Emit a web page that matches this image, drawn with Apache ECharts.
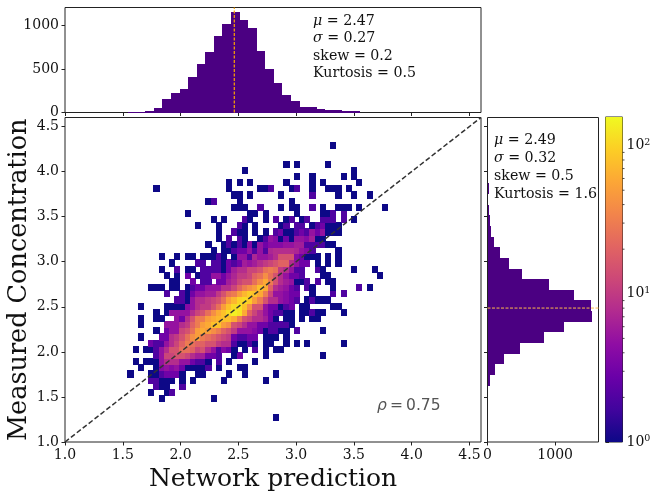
<!DOCTYPE html>
<html><head><meta charset="utf-8">
<style>html,body{margin:0;padding:0;background:#fff}#c{width:657px;height:497px}</style>
<script src="https://cdn.jsdelivr.net/npm/echarts@6/dist/echarts.min.js"></script>
</head><body><div id="c"></div>
<script>
// 2D histogram: counts by row index -> {column index: count}
const binCounts = {
47:{51:1},
44:{42:1,44:1,50:1},
43:{34:1,55:1},
42:{44:1,47:1,53:1,55:1},
41:{31:1,33:1,35:1,42:1,47:1,49:1,56:1},
40:{17:1,31:1,37:1,38:1,39:2,43:1,44:2,47:1,50:1,51:1,52:1,54:1},
39:{32:1,33:1,35:1,41:1,47:2,52:1,55:1,58:1},
38:{27:1,28:2,33:1,43:1},
37:{32:1,33:1,34:1,37:2,41:1,43:1,44:1,47:2,49:1,52:1,53:1,54:1,56:1,61:1},
36:{23:1,35:1,36:1,38:1,44:1,49:1,50:1,51:2,53:2},
35:{28:1,30:1,34:2,35:1,38:1,40:2,42:1,43:2,45:1,46:2,49:2,50:2,51:2,53:2,55:1},
34:{25:1,29:1,33:2,34:1,36:1,41:1,42:2,44:2,45:2,47:1,48:2,49:3,50:1,51:1,52:1},
33:{29:1,32:2,33:1,34:1,36:1,38:1,40:2,41:3,42:1,43:1,44:2,45:3,46:2,47:5,48:3,49:5,50:1,51:1,52:1},
32:{29:1,31:2,33:2,34:1,37:1,38:2,39:5,40:4,41:1,42:3,43:1,44:5,45:5,46:4,47:6,48:1,49:1},
31:{27:1,30:1,31:2,32:1,33:2,34:1,35:4,36:1,37:5,38:3,39:4,40:4,41:4,42:5,43:5,44:6,45:6,46:2,47:2,48:2,49:2,50:1,51:1},
30:{28:1,30:1,31:1,32:2,33:3,34:3,35:5,36:2,37:5,38:2,39:7,40:8,41:8,42:8,43:8,44:7,45:5,46:4,47:2,52:1},
29:{18:1,21:1,23:1,24:1,26:1,27:1,28:1,29:2,30:1,32:1,33:5,34:5,35:2,36:7,37:5,38:5,39:6,40:8,41:15,42:15,43:15,44:4,45:3,46:1,47:1,48:1,50:1,52:1},
28:{20:1,25:2,26:2,28:2,29:2,30:1,31:3,32:2,33:3,34:6,35:5,36:6,37:8,38:10,39:12,40:15,41:20,42:20,43:8,44:5,45:3,46:3,48:1,50:1,52:1},
27:{18:1,21:2,23:1,24:1,26:2,27:2,28:2,29:2,30:1,31:3,32:6,33:8,34:8,35:12,36:12,37:15,38:25,39:30,40:25,41:10,42:8,43:5,44:2,45:2,48:2,49:1,55:1,59:1},
26:{19:1,21:1,23:3,25:1,26:2,27:2,28:5,29:5,30:3,31:5,32:7,33:10,34:10,35:12,36:20,37:25,38:40,39:25,40:15,41:8,42:5,43:3,44:3,45:2,49:1,50:1,60:1},
25:{20:1,21:1,24:3,26:2,27:2,29:3,30:3,31:6,32:8,33:12,34:15,35:15,36:25,37:40,38:60,39:30,40:15,41:8,42:6,43:5,44:1,45:1,46:2,48:2,50:1,51:1},
24:{16:1,17:1,18:1,20:1,21:1,23:1,24:2,25:3,26:3,27:5,28:5,29:5,30:8,31:8,32:12,33:20,34:30,35:40,36:50,37:80,38:60,39:20,40:8,41:6,42:5,43:3,44:2,46:2,47:1,51:1,56:2,58:1},
23:{19:2,22:2,23:1,24:3,25:5,26:5,27:6,28:6,29:10,30:15,31:25,32:30,33:50,34:70,35:90,36:80,37:60,38:30,39:12,40:5,41:5,42:4,43:3,44:3,47:1,51:2,53:2},
22:{21:2,22:2,23:1,24:5,25:8,26:8,27:10,28:12,29:15,30:25,31:50,32:70,33:100,34:110,35:90,36:50,37:30,38:15,39:8,40:8,41:5,42:4,43:3,44:2,46:1,47:2,48:1,49:1,50:1},
21:{14:1,19:1,20:1,21:1,22:1,23:4,24:5,25:8,26:10,27:10,28:15,29:25,30:50,31:80,32:110,33:120,34:80,35:40,36:15,37:15,38:5,39:3,40:3,41:1,42:2,43:3,45:1,46:1,51:1,52:1},
20:{17:1,19:1,20:5,21:5,22:5,23:5,24:8,25:12,26:15,27:25,28:40,29:60,30:80,31:110,32:140,33:120,34:60,35:20,36:12,37:8,38:5,39:3,40:2,41:2,42:1,43:1,45:1,46:1,47:2,48:1,49:1,53:1},
19:{14:1,17:1,18:1,21:5,22:3,23:8,24:15,25:30,26:30,27:50,28:60,29:70,30:80,31:80,32:60,33:30,34:15,35:12,36:8,37:8,38:6,39:3,40:1,42:1,43:1,45:1,47:1,48:1},
18:{14:1,19:5,20:5,21:5,22:8,23:10,24:20,25:30,26:50,27:60,28:80,29:80,30:50,31:40,32:15,33:12,34:8,35:5,36:5,37:3,38:3,39:2,40:2,41:2,42:2,43:1},
17:{17:1,19:3,20:5,21:5,22:12,23:15,24:25,25:50,26:60,27:50,28:40,29:30,30:20,31:15,32:10,33:5,34:5,35:5,36:4,37:3,38:1,39:2,40:2,41:1,42:1,44:2,49:1},
16:{14:1,18:3,19:3,20:8,21:10,22:15,23:25,24:40,25:50,26:30,27:25,28:20,29:15,30:12,31:10,32:3,33:2,34:2,35:3,36:3,38:1,39:1,40:1,42:1},
15:{16:3,17:2,18:2,19:5,20:8,21:12,22:20,23:30,24:25,25:20,26:20,27:15,28:15,29:10,30:8,31:8,32:2,33:1,34:1,35:2,36:1,38:1,39:1,42:1,44:1,46:1,53:1},
14:{13:1,15:1,16:1,17:2,18:5,19:8,20:15,21:15,22:25,23:25,24:20,25:12,26:15,27:8,28:5,29:2,30:4,31:3,32:1,34:1,36:2,38:1,40:1,41:1},
13:{17:2,18:5,19:12,20:12,21:15,22:15,23:12,24:8,25:6,26:6,27:3,28:3,29:2,32:1,33:3,38:1,49:1},
12:{13:1,15:1,16:1,17:1,18:5,19:8,20:8,21:8,22:5,23:5,24:3,25:2,26:2,27:1,29:2,31:1,36:1},
11:{14:1,17:1,18:4,19:5,20:4,21:5,22:3,23:1,24:1,25:1,26:1,27:2,29:1,33:1,34:1},
10:{12:1,16:1,17:1,18:2,19:3,20:3,21:3,22:1,25:1,26:1,31:1,34:1,40:1},
9:{16:2,17:2,18:1,19:1,20:1,22:1,24:1,30:1,38:1},
8:{17:2,18:1,19:1,22:2},
7:{16:1,19:1,20:2},
6:{18:1,28:1},
3:{40:1}
};
const cellXStart = 1.0, cellXStep = 0.045, cellYStart = 1.04, cellYStep = 0.0685;

// top histogram
const topHistStart = 1.546, topHistStep = 0.0742;
const topHistCounts = [3,11,15,50,153,222,268,406,555,693,877,1015,1153,1061,969,705,498,337,199,130,61,61,38,27,27,15,15];
// right histogram
const rightHistStart = 1.39, rightHistStep = 0.118;
const rightHistCounts = [5,10,39,113,246,483,837,1133,1547,1532,1281,911,512,320,187,98,54,39,25,2,20,2,2];

const meanX = 2.465, meanY = 2.486;
const diagonal = [[1,1],[4.6,4.6]];
const mainTicks = [1,1.5,2,2.5,3,3.5,4,4.5];
const topHistTicks = [0,500,1000];
const rightHistTicks = [0,1000];
const cbarTicks = [1,10,100];
const cbarMinorTicks = [2,3,4,5,6,7,8,9,20,30,40,50,60,70,80,90];
const cbarMax = 156;
const plasma = ['#0d0887','#41049d','#6a00a8','#8f0da4','#b12a90','#cc4778','#e16462','#f2844b','#fca636','#fcce25','#f0f921'];
const topStats = ['{i|μ} = 2.47','{i|σ} = 0.27','skew = 0.2','Kurtosis = 0.5'];
const rightStats = ['{i|μ} = 2.49','{i|σ} = 0.32','skew = 0.5','Kurtosis = 1.6'];

const SERIF = '"DejaVu Serif"';
const INK = '#222';
const heatData = [];
Object.keys(binCounts).forEach(r => {
  const row = binCounts[r];
  Object.keys(row).forEach(c => {
    const n = row[c];
    heatData.push([cellXStart + c*cellXStep, cellYStart + r*cellYStep, n, Math.log10(n)]);
  });
});
const topData = topHistCounts.map((n,i)=>[topHistStart+i*topHistStep, topHistStart+(i+1)*topHistStep, n]);
const rightData = rightHistCounts.map((n,i)=>[rightHistStart+i*rightHistStep, rightHistStart+(i+1)*rightHistStep, n]);

const frame = {show:true,borderColor:INK,borderWidth:1,backgroundColor:'#fff',outerBoundsMode:'none',containLabel:false};
const axisBase = {axisLine:{show:false},splitLine:{show:false},axisTick:{length:3.5,lineStyle:{color:INK,width:1}}};
const lbl = {color:'#111',fontFamily:SERIF,fontSize:14,margin:6};

function snapRect(a,b){
  const x0=Math.round(a[0]),x1=Math.round(b[0]),y0=Math.round(b[1]),y1=Math.round(a[1]);
  return {x:x0,y:y0,width:x1-x0,height:y1-y0};
}
function statGraphics(lines,x,y0,dy){
  return lines.map((t,i)=>({type:'text',left:x,top:y0+i*dy,z:50,silent:true,
    style:{text:t,fontFamily:SERIF,fontSize:14.2,fill:'#111',
      rich:{i:{fontStyle:'italic',fontFamily:SERIF,fontSize:14.2,fill:'#111'}}}}));
}

const option = {
  animation:false,
  backgroundColor:'#fff',
  grid:[
    Object.assign({left:65,top:117.5,width:416,height:324.5},frame),
    Object.assign({left:65,top:7.5,width:416,height:105},frame),
    Object.assign({left:487.5,top:117.5,width:111,height:324.5},frame),
    Object.assign({left:605.5,top:117,width:17,height:325},frame)
  ],
  xAxis:[
    Object.assign({},axisBase,{gridIndex:0,type:'value',min:1,max:4.6,
      name:'Network prediction',nameLocation:'middle',nameGap:24,
      nameTextStyle:{fontFamily:SERIF,fontSize:25,color:'#111'},
      axisTick:{length:3.5,lineStyle:{color:INK},customValues:mainTicks},
      axisLabel:Object.assign({},lbl,{customValues:mainTicks,formatter:v=>v.toFixed(1)})}),
    Object.assign({},axisBase,{gridIndex:1,type:'value',min:1,max:4.6,
      axisTick:{length:3.5,lineStyle:{color:INK},customValues:mainTicks},
      axisLabel:{show:false}}),
    Object.assign({},axisBase,{gridIndex:2,type:'value',min:0,max:1640,
      axisTick:{length:3.5,lineStyle:{color:INK},customValues:rightHistTicks},
      axisLabel:Object.assign({},lbl,{customValues:rightHistTicks,formatter:v=>String(v)})}),
    {gridIndex:3,type:'value',min:0,max:1,show:false}
  ],
  yAxis:[
    Object.assign({},axisBase,{gridIndex:0,type:'value',min:1,max:4.6,
      name:'Measured Concentration',nameLocation:'middle',nameGap:33,nameMoveOverlap:false,
      nameTextStyle:{fontFamily:SERIF,fontSize:25.5,color:'#111'},
      axisTick:{length:3.5,lineStyle:{color:INK},customValues:mainTicks},
      axisLabel:Object.assign({},lbl,{customValues:mainTicks,formatter:v=>v.toFixed(1)})}),
    Object.assign({},axisBase,{gridIndex:1,type:'value',min:0,max:1207,
      axisTick:{length:3.5,lineStyle:{color:INK},customValues:topHistTicks},
      axisLabel:Object.assign({},lbl,{customValues:topHistTicks,formatter:v=>String(v)})}),
    Object.assign({},axisBase,{gridIndex:2,type:'value',min:1,max:4.6,
      axisTick:{length:3.5,lineStyle:{color:INK},customValues:mainTicks},
      axisLabel:{show:false}}),
    Object.assign({},axisBase,{gridIndex:3,type:'log',logBase:10,min:1,max:cbarMax,position:'right',
      axisTick:{length:3.5,lineStyle:{color:INK},customValues:cbarTicks},
      axisLabel:Object.assign({},lbl,{customValues:cbarTicks,margin:4,
        formatter:v=>'10{s|'+Math.round(Math.log10(v))+'}',
        rich:{s:{fontFamily:SERIF,fontSize:9.5,color:'#111',verticalAlign:'top',padding:[0,0,6,0]}}})})
  ],
  visualMap:{show:false,seriesIndex:0,dimension:3,min:0,max:Math.log10(cbarMax),inRange:{color:plasma}},
  series:[
    {type:'custom',name:'counts',xAxisIndex:0,yAxisIndex:0,encode:{x:0,y:1},data:heatData,z:2,silent:true,
      renderItem(p,api){
        const a=api.coord([api.value(0),api.value(1)]);
        const b=api.coord([api.value(0)+cellXStep,api.value(1)+cellYStep]);
        const s=snapRect(a,b);
        s.width+=1;s.height+=1;
        return {type:'rect',shape:s,style:{fill:api.visual('color')}};
      }},
    {type:'line',xAxisIndex:0,yAxisIndex:0,data:diagonal,symbol:'none',z:5,silent:true,
      lineStyle:{color:'#333',width:1.5,type:[5,2.5]}},
    {type:'custom',xAxisIndex:1,yAxisIndex:1,encode:{x:[0,1],y:2},data:topData,z:2,silent:true,
      renderItem(p,api){
        const a=api.coord([api.value(0),0]);const b=api.coord([api.value(1),api.value(2)]);
        return {type:'rect',shape:snapRect(a,b),style:{fill:'#4b0082'}};
      }},
    {type:'line',xAxisIndex:1,yAxisIndex:1,data:[[meanX,0],[meanX,1207]],symbol:'none',z:5,silent:true,
      lineStyle:{color:'#ffa500',width:1.2,type:[3,1.5]}},
    {type:'custom',xAxisIndex:2,yAxisIndex:2,encode:{y:[0,1],x:2},data:rightData,z:2,silent:true,
      renderItem(p,api){
        const a=api.coord([0,api.value(0)]);const b=api.coord([api.value(2),api.value(1)]);
        return {type:'rect',shape:snapRect(a,b),style:{fill:'#4b0082'}};
      }},
    {type:'line',xAxisIndex:2,yAxisIndex:2,data:[[0,meanY],[1640,meanY]],symbol:'none',z:5,silent:true,
      lineStyle:{color:'#ffb84d',width:1,type:[3,1.5]}},
    {type:'custom',xAxisIndex:3,yAxisIndex:3,data:[[0,1,cbarMax]],z:2,silent:true,clip:false,
      renderItem(p,api){
        const a=api.coord([0,1]);const b=api.coord([1,cbarMax]);
        return {type:'rect',shape:{x:a[0],y:b[1],width:b[0]-a[0],height:a[1]-b[1]},
          style:{fill:new echarts.graphic.LinearGradient(0,1,0,0,plasma.map((c,i)=>({offset:i/(plasma.length-1),color:c})))}};
      }},
    {type:'custom',xAxisIndex:3,yAxisIndex:3,data:cbarMinorTicks.map(v=>[1,v]),z:6,silent:true,clip:false,
      renderItem(p,api){
        const a=api.coord([1,api.value(1)]);
        return {type:'line',shape:{x1:a[0],y1:a[1],x2:a[0]+2,y2:a[1]},style:{stroke:INK,lineWidth:0.8}};
      }}
  ],
  graphic:[
    ...statGraphics(topStats,313,14,17.5),
    ...statGraphics(rightStats,494,133,18),
    {type:'text',left:377,top:398,z:50,silent:true,
      style:{text:'{i|ρ}\u2009=\u20090.75',fontFamily:'"DejaVu Sans"',fontSize:15.5,fill:'#555',
        rich:{i:{fontStyle:'italic',fontFamily:'"DejaVu Sans"',fontSize:15.5,fill:'#555'}}}}
  ]
};
const chart = echarts.init(document.getElementById('c'),null,{renderer:'canvas'});
chart.setOption(option);
</script></body></html>
